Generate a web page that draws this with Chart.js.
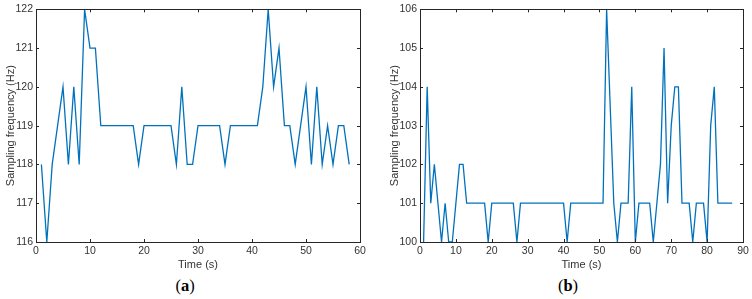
<!DOCTYPE html>
<html>
<head>
<meta charset="utf-8">
<script src="https://cdn.jsdelivr.net/npm/chart.js@4/dist/chart.umd.min.js"></script>
<style>
  html, body { margin: 0; padding: 0; background: #fff; }
  body { width: 752px; height: 299px; position: relative; overflow: hidden; }
  .wrap { position: absolute; top: 0; }
  .cap { position: absolute; top: 276px; font-family: "Liberation Serif", "Times New Roman", serif; font-size: 16.5px; color: #000; text-align: center; width: 60px; }
</style>
</head>
<body>
<div class="wrap" id="wa" style="left:0px;width:372px;height:276px;"><canvas id="ca"></canvas></div>
<div class="wrap" id="wb" style="left:384px;width:368px;height:276px;"><canvas id="cb"></canvas></div>
<div class="cap" style="left:155px;">(<b>a</b>)</div>
<div class="cap" style="left:538px;">(<b>b</b>)</div>
<script>
// ---- data (a) ----
const timeA = [1,2,3,4,5,6,7,8,9,10,11,12,13,14,15,16,17,18,19,20,21,22,23,24,25,26,27,28,29,30,31,32,33,34,35,36,37,38,39,40,41,42,43,44,45,46,47,48,49,50,51,52,53,54,55,56,57,58];
const freqA = [118,116,118,119,120,118,120,118,122,121,121,119,119,119,119,119,119,119,118,119,119,119,119,119,119,118,120,118,118,119,119,119,119,119,118,119,119,119,119,119,119,120,122,120,121,119,119,118,119,120,118,120,118,119,118,119,119,118];
const xTicksA = [0,10,20,30,40,50,60];
const yTicksA = [116,117,118,119,120,121,122];

// ---- data (b) ----
const timeB = [1,2,3,4,5,6,7,8,9,10,11,12,13,14,15,16,17,18,19,20,21,22,23,24,25,26,27,28,29,30,31,32,33,34,35,36,37,38,39,40,41,42,43,44,45,46,47,48,49,50,51,52,53,54,55,56,57,58,59,60,61,62,63,64,65,66,67,68,69,70,71,72,73,74,75,76,77,78,79,80,81,82,83,84,85,86,87];
const freqB = [100,104,101,102,101,100,101,100,100,101,102,102,101,101,101,101,101,101,100,101,101,101,101,101,101,101,100,101,101,101,101,101,101,101,101,101,101,101,101,101,100,101,101,101,101,101,101,101,101,101,101,106,103.5,101,100,101,101,101,104,100,101,101,101,101,100,101,102,105,101,103,104,104,101,101,101,100,101,101,101,100,103,104,101,101,101,101,101];
const xTicksB = [0,10,20,30,40,50,60,70,80,90];
const yTicksB = [100,101,102,103,104,105,106];

const FONT = "'Liberation Sans', Arial, Helvetica, sans-serif";
const AXIS_COLOR = '#262626';
const LABEL_COLOR = '#333333';

const boxPlugin = {
  id: 'matlabBox',
  afterDatasetsDraw(chart) {
    const {ctx, chartArea: a, scales} = chart;
    ctx.save();
    ctx.strokeStyle = AXIS_COLOR;
    ctx.lineWidth = 1;
    ctx.strokeRect(Math.round(a.left) + 0.5, Math.round(a.top) + 0.5, Math.round(a.right - a.left), Math.round(a.bottom - a.top));
    const tl = 3;
    ctx.beginPath();
    scales.x.ticks.forEach(t => {
      const px = Math.round(scales.x.getPixelForValue(t.value)) + 0.5;
      ctx.moveTo(px, a.bottom); ctx.lineTo(px, a.bottom - tl);
      ctx.moveTo(px, a.top); ctx.lineTo(px, a.top + tl);
    });
    scales.y.ticks.forEach(t => {
      const py = Math.round(scales.y.getPixelForValue(t.value)) + 0.5;
      ctx.moveTo(a.left, py); ctx.lineTo(a.left + tl, py);
      ctx.moveTo(a.right, py); ctx.lineTo(a.right - tl, py);
    });
    ctx.stroke();
    ctx.restore();
  }
};

function makeChart(id, xs, ys, xTicks, yTicks, padRight) {
  const pts = xs.map((x, i) => ({x: x, y: ys[i]}));
  return new Chart(document.getElementById(id), {
    type: 'line',
    data: { datasets: [{ data: pts, borderColor: '#0072BD', borderWidth: 1.3, pointRadius: 0, tension: 0, fill: false }] },
    options: {
      responsive: true,
      maintainAspectRatio: false,
      animation: false,
      layout: { padding: { left: 0, top: 8, right: padRight, bottom: 0 } },
      plugins: { legend: { display: false }, tooltip: { enabled: false } },
      scales: {
        x: {
          type: 'linear',
          min: xTicks[0], max: xTicks[xTicks.length - 1],
          afterBuildTicks: s => { s.ticks = xTicks.map(v => ({value: v})); },
          afterFit: s => { s.height = 34; },
          grid: { display: false, drawTicks: false },
          border: { display: false },
          ticks: { color: LABEL_COLOR, font: { family: FONT, size: 10.5 }, padding: 3, maxRotation: 0 },
          title: { display: true, text: 'Time (s)', color: LABEL_COLOR, font: { family: FONT, size: 11 }, padding: { top: 0, bottom: 4 } }
        },
        y: {
          min: yTicks[0], max: yTicks[yTicks.length - 1],
          afterBuildTicks: s => { s.ticks = yTicks.map(v => ({value: v})); },
          afterFit: s => { s.width = 36; },
          grid: { display: false, drawTicks: false },
          border: { display: false },
          ticks: { color: LABEL_COLOR, font: { family: FONT, size: 10.5 }, padding: 3 },
          title: { display: true, text: 'Sampling frequency (Hz)', color: LABEL_COLOR, font: { family: FONT, size: 11 }, padding: { top: 4, bottom: 0 } }
        }
      }
    },
    plugins: [boxPlugin]
  });
}

makeChart('ca', timeA, freqA, xTicksA, yTicksA, 12);
makeChart('cb', timeB, freqB, xTicksB, yTicksB, 9);
</script>
</body>
</html>
